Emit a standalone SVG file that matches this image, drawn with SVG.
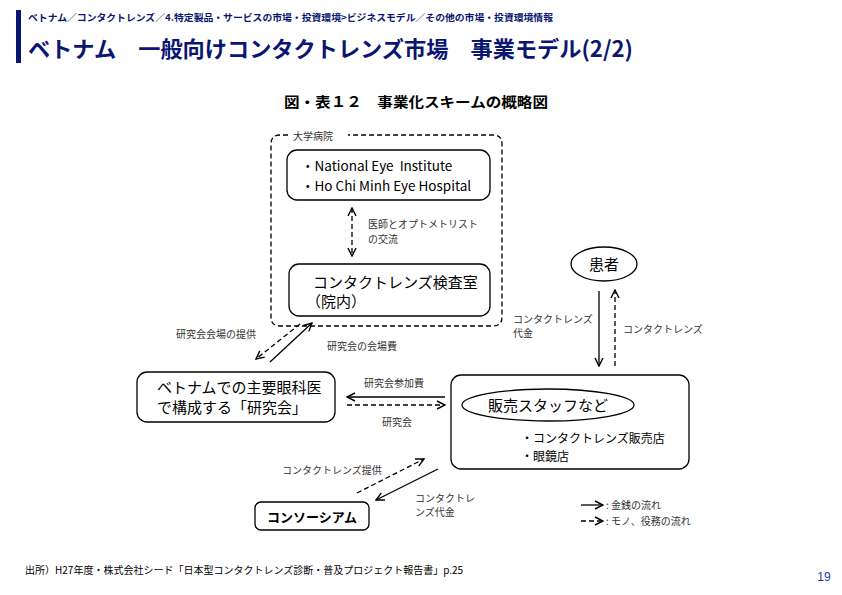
<svg xmlns="http://www.w3.org/2000/svg" width="842" height="595" viewBox="0 0 842 595">
<style>
.hdr{font-family:"Noto Sans CJK JP","Noto Sans",sans-serif;font-weight:bold;fill:#0a1670}
.t{font-family:"Noto Sans CJK JP","Liberation Sans",sans-serif;fill:#000}
.s{font-size:10px;fill:#333}
.box{fill:#fff;stroke:#000;stroke-width:1.3}
.ln{fill:none;stroke:#000;stroke-width:1.3}
.dl{fill:none;stroke:#000;stroke-width:1.3;stroke-dasharray:5 3}
</style>
<defs>
<marker id="ah" viewBox="0 0 10 10" refX="9" refY="5" markerWidth="10" markerHeight="10" markerUnits="userSpaceOnUse" orient="auto-start-reverse">
<polyline points="1,1 9,5 1,9" fill="none" stroke="#000" stroke-width="1.4"/>
</marker>
</defs>
<rect width="842" height="595" fill="#fff"/>
<g id="header">
<rect x="16" y="10" width="5" height="53" fill="#0a1670"/>
<text class="hdr" x="28" y="21" font-size="9.5" textLength="525" lengthAdjust="spacingAndGlyphs">ベトナム／コンタクトレンズ／4.特定製品・サービスの市場・投資環境&gt;ビジネスモデル／その他の市場・投資環境情報</text>
<text class="hdr" x="28" y="57" font-size="22" textLength="605" lengthAdjust="spacingAndGlyphs">ベトナム　一般向けコンタクトレンズ市場　事業モデル(2/2)</text>
</g>
<text class="t" x="284" y="107" font-size="14" font-weight="bold" textLength="264" lengthAdjust="spacingAndGlyphs">図・表１２　事業化スキームの概略図</text>
<g id="hospital">
<path class="dl" d="M288,135 H280 Q271,135 271,144 V317 Q271,326 280,326 H493 Q502,326 502,317 V144 Q502,135 493,135 H348" stroke-dasharray="4 2" stroke-width="1.1"/>
<text class="t s" x="293" y="140">大学病院</text>
</g>
<g id="institutes">
<rect class="box" x="287" y="150" width="203" height="50" rx="10"/>
<text class="t" x="301" y="171" font-size="13.5" xml:space="preserve">・National Eye  Institute</text>
<text class="t" x="301" y="191" font-size="13.5">・Ho Chi Minh Eye Hospital</text>
</g>
<g id="lab">
<rect class="box" x="289" y="264" width="201" height="52" rx="10"/>
<text class="t" x="313" y="288" font-size="15">コンタクトレンズ検査室</text>
<text class="t" x="306" y="307" font-size="15">（院内）</text>
</g>
<g id="kenkyukai">
<rect class="box" x="137" y="372" width="198" height="50" rx="10"/>
<text class="t" x="157" y="393" font-size="15">ベトナムでの主要眼科医</text>
<text class="t" x="157" y="413" font-size="15">で構成する「研究会」</text>
</g>
<g id="shop">
<rect class="box" x="451" y="375" width="238" height="94" rx="10"/>
<ellipse class="box" cx="548" cy="405" rx="86" ry="16"/>
<text class="t" x="548" y="411" font-size="15" text-anchor="middle">販売スタッフなど</text>
<text class="t" x="521" y="443" font-size="12">・コンタクトレンズ販売店</text>
<text class="t" x="521" y="461" font-size="12">・眼鏡店</text>
</g>
<g id="patient">
<ellipse class="box" cx="604" cy="264" rx="33" ry="17"/>
<text class="t" x="604" y="270" font-size="15" text-anchor="middle">患者</text>
</g>
<g id="consortium">
<rect class="box" x="255" y="502" width="114" height="28" rx="6"/>
<text class="t" x="312" y="522" font-size="13" font-weight="bold" text-anchor="middle">コンソーシアム</text>
</g>
<g id="connectors">
<line class="dl" x1="352" y1="208" x2="352" y2="256" marker-start="url(#ah)" marker-end="url(#ah)"/>
<line class="dl" x1="300" y1="324" x2="256" y2="359" marker-end="url(#ah)"/>
<line class="ln" x1="270" y1="362" x2="312" y2="323" marker-end="url(#ah)"/>
<line class="ln" x1="445" y1="397" x2="347" y2="397" marker-end="url(#ah)"/>
<line class="dl" x1="347" y1="405" x2="445" y2="405" marker-end="url(#ah)"/>
<line class="ln" x1="599" y1="291" x2="599" y2="366" marker-end="url(#ah)"/>
<line class="dl" x1="615" y1="366" x2="615" y2="290" marker-end="url(#ah)"/>
<line class="dl" x1="357" y1="493" x2="424" y2="459" marker-end="url(#ah)"/>
<line class="ln" x1="438" y1="469" x2="376" y2="500" marker-end="url(#ah)"/>
</g>
<g id="labels">
<text class="t s" x="368" y="228">医師とオプトメトリスト</text>
<text class="t s" x="368" y="243">の交流</text>
<text class="t s" x="176" y="338">研究会会場の提供</text>
<text class="t s" x="327" y="350">研究会の会場費</text>
<text class="t s" x="364" y="387">研究会参加費</text>
<text class="t s" x="382" y="426">研究会</text>
<text class="t s" x="513" y="323">コンタクトレンズ</text>
<text class="t s" x="513" y="337">代金</text>
<text class="t s" x="623" y="333">コンタクトレンズ</text>
<text class="t s" x="282" y="474">コンタクトレンズ提供</text>
<text class="t s" x="415" y="502">コンタクトレ</text>
<text class="t s" x="415" y="516">ンズ代金</text>
</g>
<g id="legend">
<line class="ln" x1="581" y1="505" x2="603" y2="505" marker-end="url(#ah)"/>
<line class="dl" x1="581" y1="521" x2="603" y2="521" stroke-dasharray="4 2" marker-end="url(#ah)"/>
<text class="t s" x="606" y="509">: 金銭の流れ</text>
<text class="t s" x="606" y="525">: モノ、役務の流れ</text>
</g>
<text class="t" x="25" y="574" font-size="10">出所）H27年度・株式会社シード「日本型コンタクトレンズ診断・普及プロジェクト報告書」p.25</text>
<text x="824" y="581" font-size="12" font-family="Liberation Sans,sans-serif" fill="#2040b0" text-anchor="middle">19</text>
</svg>
